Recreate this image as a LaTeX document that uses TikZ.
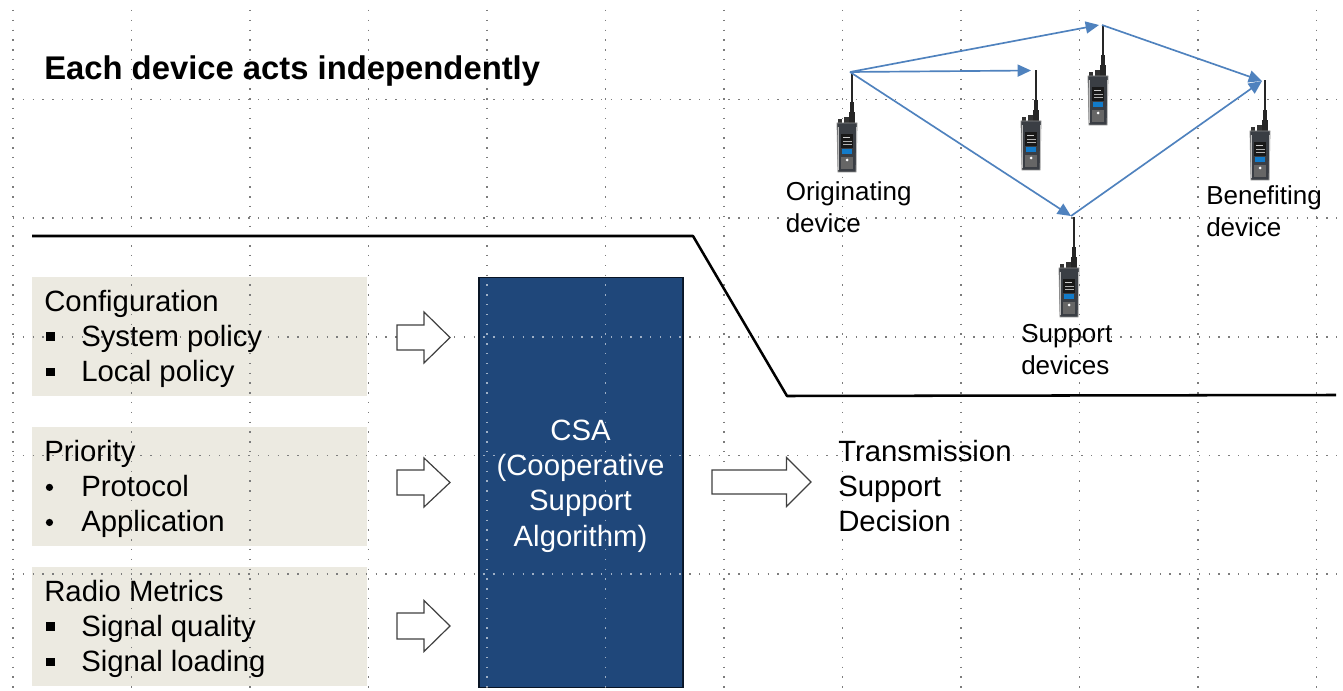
\documentclass[tikz,border=0pt]{standalone}
\usepackage{fontspec}
\setmainfont{Liberation Sans}
\usetikzlibrary{arrows.meta}
\definecolor{boxbeige}{HTML}{ECEAE1}
\definecolor{csablue}{HTML}{1F477A}
\definecolor{linkblue}{HTML}{4F82BE}
\definecolor{griddot}{HTML}{7C7C7C}
\definecolor{griddotlight}{HTML}{9FB0C6}
\definecolor{radiobody}{HTML}{3A3E44}
\newcommand{\sqb}{\makebox[27.75pt][l]{\hspace{1.5pt}\rule[4pt]{6.6pt}{6.6pt}}}
\newcommand{\rdb}{\makebox[27.75pt][l]{\hspace{1.2pt}\raisebox{4.2pt}{\tikz\fill (0,0) circle (2.7pt);}}}
\tikzset{
  x=0.75pt, y=-0.75pt,
  griddots/.style={griddot, line width=1.05pt, dash pattern=on 1.05pt off 6.3pt},
  griddotsin/.style={griddotlight, line width=1.05pt, dash pattern=on 1.05pt off 6.3pt},
  beigebox/.style={fill=boxbeige, draw=none, inner sep=0pt, minimum width=251.25pt, minimum height=89.4pt},
  csabox/.style={fill=csablue, draw=black!70!csablue, line width=1pt, inner sep=0pt, minimum width=153pt, minimum height=307pt},
  listtext/.style={anchor=north west, inner sep=0pt, align=left, font=\fontsize{22}{26.3}\selectfont},
  smalltext/.style={anchor=north west, inner sep=0pt, align=left, font=\fontsize{19.5}{24}\selectfont},
  hollow/.style={draw=black!75, fill=white, line width=.9pt, line join=miter},
  link/.style={linkblue, line width=1.25pt, -{Triangle[length=10pt,width=9pt]}},
  pics/radio/.style={code={
    \fill[black!85] (-1.4,0) rectangle (1.4,30);
    \fill[black!85] (-1.8,30) rectangle (1.8,42);
    \fill[black!85] (-2.6,40) rectangle (2.6,54);
    \fill[black!80] (-14,47) rectangle (-10,55);
    \fill[black!80] (-8,45) rectangle (-3.5,55);
    \fill[radiobody, draw=black!45, line width=.6pt] (-15,51) -- (5,51) -- (4,100) -- (-14,100) -- cycle;
    \fill[black!90] (-11,62) rectangle (1,76);
    \fill[white!80!black] (-9,65) rectangle (-2,66.5);
    \fill[black!30] (-9,69) rectangle (0,70);
    \fill[black!30] (-9,72) rectangle (0,73);
    \fill[cyan!60!blue] (-10,77) rectangle (0,82);
    \fill[black!60] (-11,85) rectangle (1,97);
    \fill[white] (-5,88) circle (1.5);
    \fill[black!25] (-14.5,55) rectangle (-13.5,98);
    \fill[black!25] (3.5,55) rectangle (4.5,98);
  }},
}
\newcommand{\blockarrow}[6]{% x0 xhead xtip ycentre halfshaft halfhead
  \draw[hollow] (#1,#4-#5) -- (#2,#4-#5) -- (#2,#4-#6) -- (#3,#4) -- (#2,#4+#6) -- (#2,#4+#5) -- (#1,#4+#5) -- cycle;}
\begin{document}
\begin{tikzpicture}
\useasboundingbox (0,0) rectangle (1343,691);
\fill[white] (0,0) rectangle (1343,691);

% boxes
\node[beigebox] (cfgbox) at (199.5,336.7) {};
\node[beigebox] (priobox) at (199.5,486.5) {};
\node[beigebox] (metbox) at (199.5,626.5) {};
\node[csabox] (csabg) at (581,482.2) {};

% dotted grid
\foreach \k in {0,...,11}{
  \draw[griddots] ({13+118.5*\k},10) -- ({13+118.5*\k},691);
}
\foreach \yy in {99.5,218,337,455.7,574}{
  \draw[griddots] (13,\yy) -- (1343,\yy);
}
% the same dots, lighter where they cross the dark box
\begin{scope}
\clip (480,278.5) rectangle (682,686);
\fill[csablue] (479,277) rectangle (683,687);
\foreach \k in {4,5}{
  \draw[griddotsin] ({13+118.5*\k},10) -- ({13+118.5*\k},691);
}
\foreach \yy in {337,455.7,574}{
  \draw[griddotsin] (13,\yy) -- (1343,\yy);
}
\end{scope}

% black divider
\coordinate (divA) at (32,236);
\coordinate (divB) at (693,236);
\coordinate (divC) at (787,396);
\coordinate (divD) at (1336,395);
\draw[black, line width=1.9pt, line join=round] (divA) -- (divB) -- (divC) -- (divD);

% title
\node[anchor=base west, inner sep=0pt, font=\fontsize{24.6}{28}\selectfont\bfseries] (title) at (44,79.5) {Each device acts independently};

% lists
\node[listtext] (cfg) at (44,290) {Configuration\\ \sqb System policy\\ \sqb Local policy};
\node[listtext] (prio) at (44,440) {Priority\\ \rdb Protocol\\ \rdb Application};
\node[listtext] (metrics) at (44,580) {Radio Metrics\\ \sqb Signal quality\\ \sqb Signal loading};

% CSA
\node[anchor=center, inner sep=0pt, align=center, text=white, font=\fontsize{22}{26.5}\selectfont] (csa) at (580.5,486) {CSA\\(Cooperative\\Support\\Algorithm)};

% block arrows
\blockarrow{397}{424}{450}{337.5}{12.5}{25.5}
\blockarrow{397}{424}{450}{482.5}{12.5}{24.5}
\blockarrow{397}{424}{450}{626}{13}{25.5}
\blockarrow{712}{786.5}{811}{482}{12}{24.5}

% decision
\node[listtext] (decision) at (838,440) {Transmission\\Support\\Decision};

% radios
\pic at (852,72) {radio};
\pic at (1036,70) {radio};
\pic at (1103,25) {radio};
\pic at (1265,80) {radio};
\pic at (1074,217) {radio};

% link anchors
\coordinate (orig) at (850,72);
\coordinate (inR) at (1031,70.5);
\coordinate (inT) at (1099,25);
\coordinate (outT) at (1102,25);
\coordinate (inB) at (1262,81);
\coordinate (inS) at (1071,216);
\coordinate (outS) at (1071,216);
\draw[link] (orig) -- (inR);
\draw[link] (orig) -- (inT);
\draw[link] (orig) -- (inS);
\draw[link] (outT) -- (inB);
\draw[link] (outS) -- (inB);

% labels
\node[smalltext] (lorig) at (785.5,181) {Originating\\device};
\node[smalltext] (lben) at (1206,185) {Benefiting\\device};
\node[smalltext] (lsup) at (1021,324) {Support\\devices};
\end{tikzpicture}
\end{document}
